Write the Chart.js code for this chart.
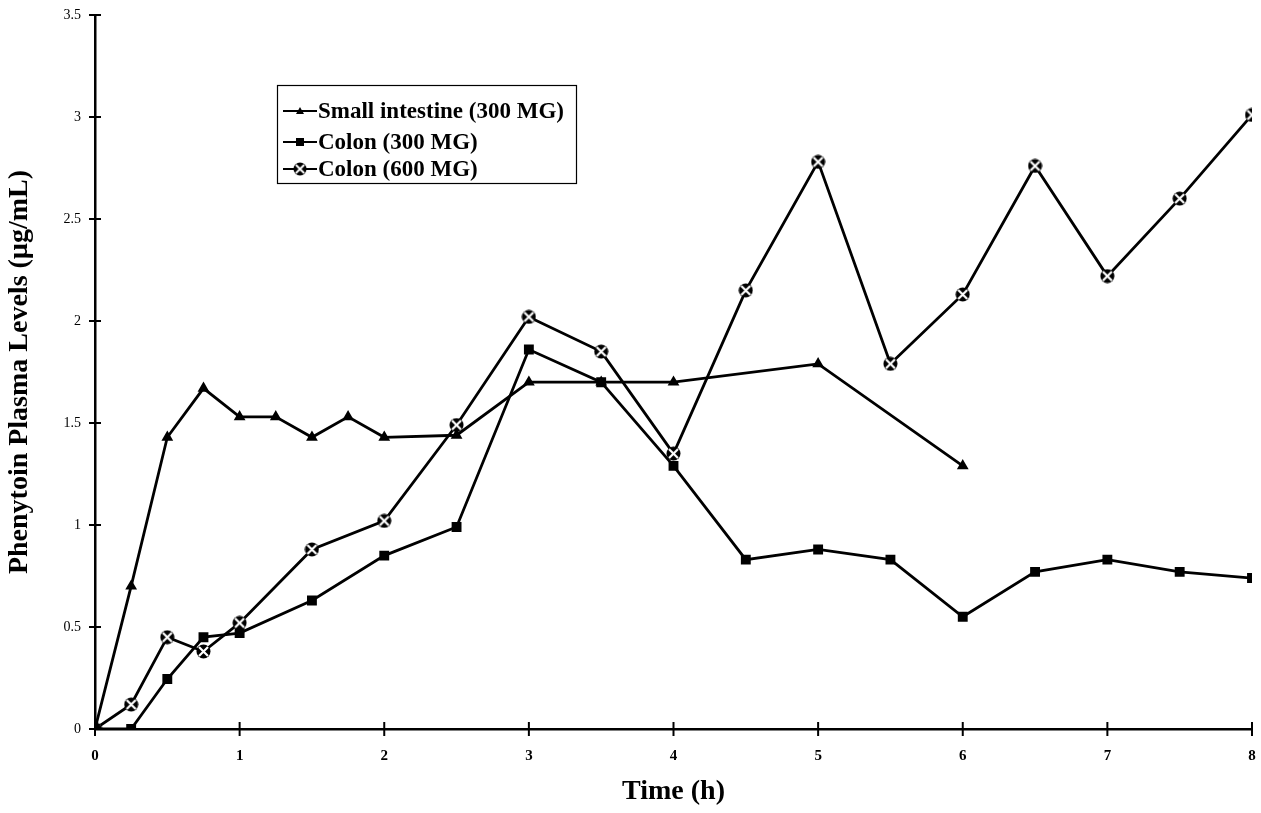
<!DOCTYPE html>
<html>
<head>
<meta charset="utf-8">
<script src="https://cdn.jsdelivr.net/npm/chart.js@4.4.1/dist/chart.umd.min.js"></script>
<style>
  html, body { margin: 0; padding: 0; background: #fff; }
  #wrap { width: 1261px; height: 813px; position: relative; }
</style>
</head>
<body>
<div id="wrap"><canvas id="chart" width="1261" height="813"></canvas></div>
<script>
// ===== Data =====
const siTime   = [0, 0.25, 0.5, 0.75, 1, 1.25, 1.5, 1.75, 2, 2.5, 3, 3.5, 4, 5, 6];
const siLevel  = [0, 0.70, 1.43, 1.67, 1.53, 1.53, 1.43, 1.53, 1.43, 1.44, 1.70, 1.70, 1.70, 1.79, 1.29];

const c300Time  = [0, 0.25, 0.5, 0.75, 1, 1.5, 2, 2.5, 3, 3.5, 4, 4.5, 5, 5.5, 6, 6.5, 7, 7.5, 8];
const c300Level = [0, 0, 0.245, 0.45, 0.47, 0.63, 0.85, 0.99, 1.86, 1.70, 1.29, 0.83, 0.88, 0.83, 0.55, 0.77, 0.83, 0.77, 0.74];

const c600Time  = [0, 0.25, 0.5, 0.75, 1, 1.5, 2, 2.5, 3, 3.5, 4, 4.5, 5, 5.5, 6, 6.5, 7, 7.5, 8];
const c600Level = [0, 0.12, 0.45, 0.38, 0.52, 0.88, 1.02, 1.49, 2.02, 1.85, 1.35, 2.15, 2.78, 1.79, 2.13, 2.76, 2.22, 2.60, 3.01];

const seriesNames = ['Small intestine (300 MG)', 'Colon (300 MG)', 'Colon (600 MG)'];
const xTicks = [0, 1, 2, 3, 4, 5, 6, 7, 8];
const yTicks = [0, 0.5, 1, 1.5, 2, 2.5, 3, 3.5];

const serif = "'Liberation Serif', 'DejaVu Serif', serif";

// circled-x marker: black disc with a white cross cut through it
function makeXMark(size) {
  const cv = document.createElement('canvas');
  cv.width = size; cv.height = size;
  const g = cv.getContext('2d');
  const r = size / 2;
  g.fillStyle = '#000';
  g.beginPath(); g.arc(r, r, r - 0.5, 0, Math.PI * 2); g.fill();
  g.strokeStyle = '#fff'; g.lineWidth = 2.2;
  g.beginPath();
  g.moveTo(3, 3); g.lineTo(size - 3, size - 3);
  g.moveTo(size - 3, 3); g.lineTo(3, size - 3);
  g.stroke();
  return cv;
}
const xMark = makeXMark(15);

const toPts = (xs, ys) => xs.map((x, i) => ({ x, y: ys[i] }));

// cross ticks through the axes + boxed legend
const axisDecor = {
  id: 'axisDecor',
  afterDraw(chart) {
    const { ctx, scales: { x, y } } = chart;
    ctx.save();
    ctx.strokeStyle = '#000';
    ctx.lineWidth = 2;
    const y0 = y.getPixelForValue(0);
    const x0 = x.getPixelForValue(0);
    xTicks.forEach(v => {
      const px = x.getPixelForValue(v);
      ctx.beginPath(); ctx.moveTo(px, y0 - 7); ctx.lineTo(px, y0 + 7); ctx.stroke();
    });
    yTicks.forEach(v => {
      const py = y.getPixelForValue(v);
      ctx.beginPath(); ctx.moveTo(x0 - 6, py); ctx.lineTo(x0 + 6, py); ctx.stroke();
    });

    // legend
    ctx.lineWidth = 1.2;
    ctx.strokeRect(277.5, 85.5, 299, 98);
    const rows = [111, 142, 169];
    ctx.font = 'bold 23px ' + serif;
    ctx.textBaseline = 'middle';
    ctx.fillStyle = '#000';
    rows.forEach((ry, i) => {
      ctx.lineWidth = 2;
      ctx.beginPath(); ctx.moveTo(283, ry); ctx.lineTo(317, ry); ctx.stroke();
      if (i === 0) {
        ctx.beginPath(); ctx.moveTo(300, ry - 4); ctx.lineTo(304, ry + 3); ctx.lineTo(296, ry + 3); ctx.closePath(); ctx.fill();
      } else if (i === 1) {
        ctx.fillRect(296, ry - 4, 8, 8);
      } else {
        ctx.drawImage(xMark, 293, ry - 7, 14, 14);
      }
      ctx.fillText(seriesNames[i], 318, ry + 1);
    });
    ctx.restore();
  }
};

const lineStyle = { borderColor: '#000', backgroundColor: '#000', borderWidth: 2.8, tension: 0, fill: false };

new Chart(document.getElementById('chart'), {
  type: 'scatter',
  data: {
    datasets: [
      { ...lineStyle, label: seriesNames[0], data: toPts(siTime, siLevel), showLine: true, pointStyle: 'triangle', pointRadius: 4 },
      { ...lineStyle, label: seriesNames[1], data: toPts(c300Time, c300Level), showLine: true, pointStyle: 'rect', pointRadius: 5 },
      { ...lineStyle, label: seriesNames[2], data: toPts(c600Time, c600Level), showLine: true, pointStyle: xMark }
    ]
  },
  options: {
    responsive: false,
    animation: false,
    events: [],
    layout: { padding: { top: 15, right: 9, left: 0, bottom: 0 } },
    plugins: { legend: { display: false }, tooltip: { enabled: false } },
    scales: {
      x: {
        type: 'linear', min: 0, max: 8,
        afterFit: s => { s.height = 84; s.paddingLeft = 0; s.paddingRight = 0; },
        afterBuildTicks: s => { s.ticks = xTicks.map(v => ({ value: v })); },
        grid: { display: false, drawTicks: false },
        border: { display: true, color: '#000', width: 2.5 },
        ticks: { color: '#000', padding: 18, font: { family: serif, size: 15, weight: 'bold' } },
        title: { display: true, text: 'Time (h)', color: '#000', padding: { top: 8 }, font: { family: serif, size: 28, weight: 'bold' } }
      },
      y: {
        type: 'linear', min: 0, max: 3.5,
        afterFit: s => { s.width = 95; s.paddingTop = 0; s.paddingBottom = 0; },
        afterBuildTicks: s => { s.ticks = yTicks.map(v => ({ value: v })); },
        grid: { display: false, drawTicks: false },
        border: { display: true, color: '#000', width: 2.5 },
        ticks: { color: '#000', padding: 14, font: { family: serif, size: 14 }, callback: v => String(v) },
        title: { display: true, text: 'Phenytoin Plasma Levels (µg/mL)', color: '#000', padding: { top: 3, bottom: 0 }, font: { family: serif, size: 28, weight: 'bold' } }
      }
    }
  },
  plugins: [axisDecor]
});
</script>
</body>
</html>
